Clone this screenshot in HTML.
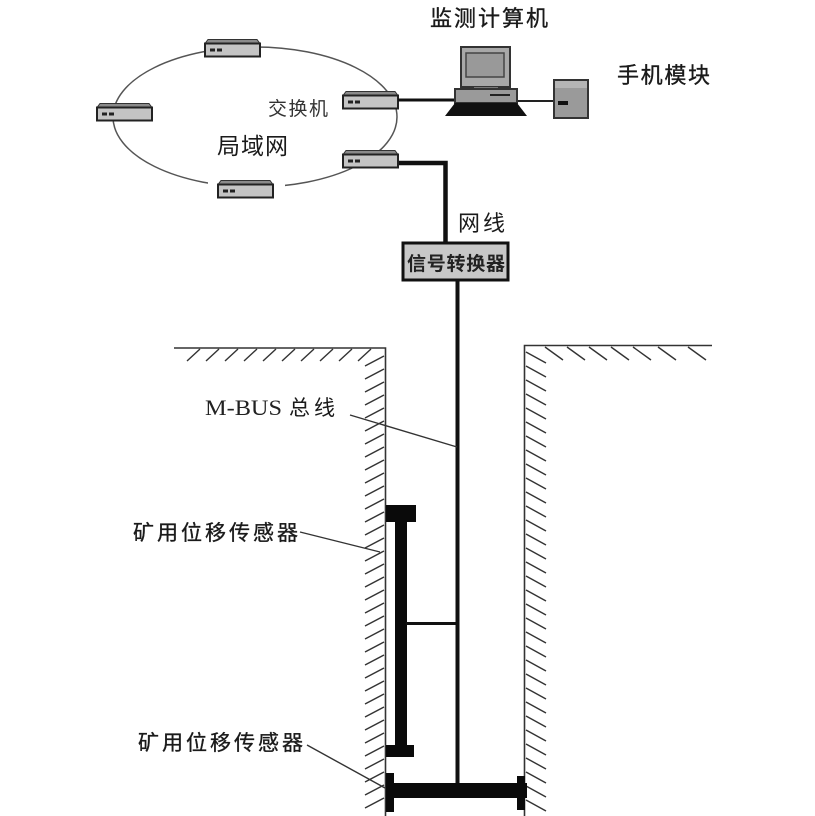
<!DOCTYPE html>
<html>
<head>
<meta charset="utf-8">
<style>
html,body{margin:0;padding:0;background:#fff;}
svg{display:block;}
text{font-family:"Liberation Sans","Noto Sans CJK SC",sans-serif;fill:#1a1a1a;}
.b{stroke:#1a1a1a;stroke-width:0.35;}
</style>
</head>
<body>
<svg width="815" height="816" viewBox="0 0 815 816" xmlns="http://www.w3.org/2000/svg">
<rect width="815" height="816" fill="#fff"/>

<!-- LAN ellipse -->
<ellipse cx="255" cy="117" rx="142" ry="70" fill="none" stroke="#555" stroke-width="1.5"/>

<defs>
<g id="sw">
  <path d="M3,0.5 H52 L55,4.5 H0 Z" fill="#8a8a8a" stroke="#333" stroke-width="1"/>
  <rect x="0" y="4.5" width="55" height="13" fill="#c4c4c4" stroke="#222" stroke-width="2"/>
  <rect x="5" y="9.5" width="5" height="3" fill="#222"/>
  <rect x="12" y="9.5" width="5" height="3" fill="#222"/>
</g>
</defs>
<rect x="208" y="176" width="77" height="26" fill="#fff"/>
<use href="#sw" x="205" y="39"/>
<use href="#sw" x="97" y="103"/>
<use href="#sw" x="343" y="91"/>
<use href="#sw" x="343" y="150"/>
<use href="#sw" x="218" y="180"/>

<!-- links -->
<line x1="398" y1="100" x2="456" y2="100" stroke="#111" stroke-width="3"/>
<line x1="517" y1="101" x2="554" y2="101" stroke="#222" stroke-width="2"/>
<polyline points="399,163 445.5,163 445.5,244" fill="none" stroke="#111" stroke-width="4.5"/>

<!-- computer -->
<rect x="461" y="47" width="49" height="40" fill="#a8a8a8" stroke="#333" stroke-width="2"/>
<rect x="466" y="53" width="38" height="24" fill="#999" stroke="#444" stroke-width="1.5"/>
<rect x="474" y="87" width="24" height="3" fill="#777"/>
<rect x="455" y="89" width="62" height="14" fill="#9a9a9a" stroke="#333" stroke-width="2"/>
<line x1="490" y1="95" x2="510" y2="95" stroke="#222" stroke-width="2"/>
<polygon points="455,103 517,103 527,116 445,116" fill="#111"/>

<!-- phone module -->
<rect x="554" y="80" width="34" height="38" fill="#9a9a9a" stroke="#333" stroke-width="2"/>
<rect x="555" y="81" width="32" height="7" fill="#b5b5b5"/>
<rect x="558" y="101" width="10" height="4" fill="#111"/>

<!-- signal converter -->
<rect x="403" y="243" width="105" height="37" fill="#c8c8c8" stroke="#111" stroke-width="3"/>

<!-- bus -->
<line x1="457.5" y1="281" x2="457.5" y2="784" stroke="#111" stroke-width="4"/>

<!-- ground & walls -->
<g stroke="#333" stroke-width="1.6" fill="none">
  <polyline points="174,348 385.5,348 385.5,816"/>
  <polyline points="712,345.5 524.5,345.5 524.5,816"/>
</g>
<g stroke="#333" stroke-width="1.4">
  <line x1="187" y1="361" x2="200" y2="349"/>
  <line x1="206" y1="361" x2="219" y2="349"/>
  <line x1="225" y1="361" x2="238" y2="349"/>
  <line x1="244" y1="361" x2="257" y2="349"/>
  <line x1="263" y1="361" x2="276" y2="349"/>
  <line x1="282" y1="361" x2="295" y2="349"/>
  <line x1="301" y1="361" x2="314" y2="349"/>
  <line x1="320" y1="361" x2="333" y2="349"/>
  <line x1="339" y1="361" x2="352" y2="349"/>
  <line x1="358" y1="361" x2="371" y2="349"/>
  <line x1="545" y1="347" x2="563" y2="360"/>
  <line x1="567" y1="347" x2="585" y2="360"/>
  <line x1="589" y1="347" x2="607" y2="360"/>
  <line x1="611" y1="347" x2="629" y2="360"/>
  <line x1="633" y1="347" x2="651" y2="360"/>
  <line x1="658" y1="347" x2="676" y2="360"/>
  <line x1="688" y1="347" x2="706" y2="360"/>
</g>
<g stroke="#333" stroke-width="1.4">
  <line x1="365" y1="366" x2="384" y2="356"/>
  <line x1="365" y1="379" x2="384" y2="369"/>
  <line x1="365" y1="392" x2="384" y2="382"/>
  <line x1="365" y1="405" x2="384" y2="395"/>
  <line x1="365" y1="418" x2="384" y2="408"/>
  <line x1="365" y1="431" x2="384" y2="421"/>
  <line x1="365" y1="444" x2="384" y2="434"/>
  <line x1="365" y1="457" x2="384" y2="447"/>
  <line x1="365" y1="470" x2="384" y2="460"/>
  <line x1="365" y1="483" x2="384" y2="473"/>
  <line x1="365" y1="496" x2="384" y2="486"/>
  <line x1="365" y1="509" x2="384" y2="499"/>
  <line x1="365" y1="522" x2="384" y2="512"/>
  <line x1="365" y1="535" x2="384" y2="525"/>
  <line x1="365" y1="548" x2="384" y2="538"/>
  <line x1="365" y1="561" x2="384" y2="551"/>
  <line x1="365" y1="574" x2="384" y2="564"/>
  <line x1="365" y1="587" x2="384" y2="577"/>
  <line x1="365" y1="600" x2="384" y2="590"/>
  <line x1="365" y1="613" x2="384" y2="603"/>
  <line x1="365" y1="626" x2="384" y2="616"/>
  <line x1="365" y1="639" x2="384" y2="629"/>
  <line x1="365" y1="652" x2="384" y2="642"/>
  <line x1="365" y1="665" x2="384" y2="655"/>
  <line x1="365" y1="678" x2="384" y2="668"/>
  <line x1="365" y1="691" x2="384" y2="681"/>
  <line x1="365" y1="704" x2="384" y2="694"/>
  <line x1="365" y1="717" x2="384" y2="707"/>
  <line x1="365" y1="730" x2="384" y2="720"/>
  <line x1="365" y1="743" x2="384" y2="733"/>
  <line x1="365" y1="756" x2="384" y2="746"/>
  <line x1="365" y1="769" x2="384" y2="759"/>
  <line x1="365" y1="782" x2="384" y2="772"/>
  <line x1="365" y1="795" x2="384" y2="785"/>
  <line x1="365" y1="808" x2="384" y2="798"/>
</g>
<g stroke="#333" stroke-width="1.4">
  <line x1="526" y1="352" x2="546" y2="363"/>
  <line x1="526" y1="366" x2="546" y2="377"/>
  <line x1="526" y1="380" x2="546" y2="391"/>
  <line x1="526" y1="394" x2="546" y2="405"/>
  <line x1="526" y1="408" x2="546" y2="419"/>
  <line x1="526" y1="422" x2="546" y2="433"/>
  <line x1="526" y1="436" x2="546" y2="447"/>
  <line x1="526" y1="450" x2="546" y2="461"/>
  <line x1="526" y1="464" x2="546" y2="475"/>
  <line x1="526" y1="478" x2="546" y2="489"/>
  <line x1="526" y1="492" x2="546" y2="503"/>
  <line x1="526" y1="506" x2="546" y2="517"/>
  <line x1="526" y1="520" x2="546" y2="531"/>
  <line x1="526" y1="534" x2="546" y2="545"/>
  <line x1="526" y1="548" x2="546" y2="559"/>
  <line x1="526" y1="562" x2="546" y2="573"/>
  <line x1="526" y1="576" x2="546" y2="587"/>
  <line x1="526" y1="590" x2="546" y2="601"/>
  <line x1="526" y1="604" x2="546" y2="615"/>
  <line x1="526" y1="618" x2="546" y2="629"/>
  <line x1="526" y1="632" x2="546" y2="643"/>
  <line x1="526" y1="646" x2="546" y2="657"/>
  <line x1="526" y1="660" x2="546" y2="671"/>
  <line x1="526" y1="674" x2="546" y2="685"/>
  <line x1="526" y1="688" x2="546" y2="699"/>
  <line x1="526" y1="702" x2="546" y2="713"/>
  <line x1="526" y1="716" x2="546" y2="727"/>
  <line x1="526" y1="730" x2="546" y2="741"/>
  <line x1="526" y1="744" x2="546" y2="755"/>
  <line x1="526" y1="758" x2="546" y2="769"/>
  <line x1="526" y1="772" x2="546" y2="783"/>
  <line x1="526" y1="786" x2="546" y2="797"/>
  <line x1="526" y1="800" x2="546" y2="811"/>
</g>

<!-- sensor assembly -->
<rect x="386" y="505" width="30" height="17" fill="#0a0a0a"/>
<rect x="395" y="521" width="12" height="225" fill="#0a0a0a"/>
<rect x="386" y="745" width="28" height="12" fill="#0a0a0a"/>
<line x1="406" y1="623.5" x2="458" y2="623.5" stroke="#111" stroke-width="3"/>
<rect x="386" y="783" width="141" height="15" fill="#0a0a0a"/>
<rect x="386" y="773" width="8" height="39" fill="#0a0a0a"/>
<rect x="517" y="776" width="8" height="34" fill="#0a0a0a"/>

<!-- leaders -->
<g stroke="#333" stroke-width="1.4">
  <line x1="350" y1="415" x2="457" y2="447"/>
  <line x1="300" y1="532" x2="380" y2="552"/>
  <line x1="307" y1="745" x2="385" y2="788"/>
</g>

<!-- labels -->
<text class="b" x="430" y="26" font-size="22" textLength="118" lengthAdjust="spacing">监测计算机</text>
<text class="b" x="617" y="83" font-size="22" textLength="93" lengthAdjust="spacing">手机模块</text>
<text x="268" y="115" font-size="19" textLength="60" lengthAdjust="spacing" style="fill:#333">交换机</text>
<text x="217" y="154" font-size="23" textLength="71" lengthAdjust="spacing">局域网</text>
<text x="458" y="231" font-size="22" textLength="47" lengthAdjust="spacing">网线</text>
<text x="407" y="270" font-size="19" font-weight="bold" textLength="98" lengthAdjust="spacing" style="fill:#222">信号转换器</text>
<text x="205" y="415" font-size="22" textLength="77" lengthAdjust="spacingAndGlyphs" style="font-family:'Liberation Serif',serif;fill:#222">M-BUS</text>
<text x="289" y="415" font-size="21" textLength="46" lengthAdjust="spacing">总线</text>
<text class="b" x="133" y="540" font-size="21" textLength="165" lengthAdjust="spacing">矿用位移传感器</text>
<text class="b" x="138" y="750" font-size="21" textLength="165" lengthAdjust="spacing">矿用位移传感器</text>
</svg>
</body>
</html>
